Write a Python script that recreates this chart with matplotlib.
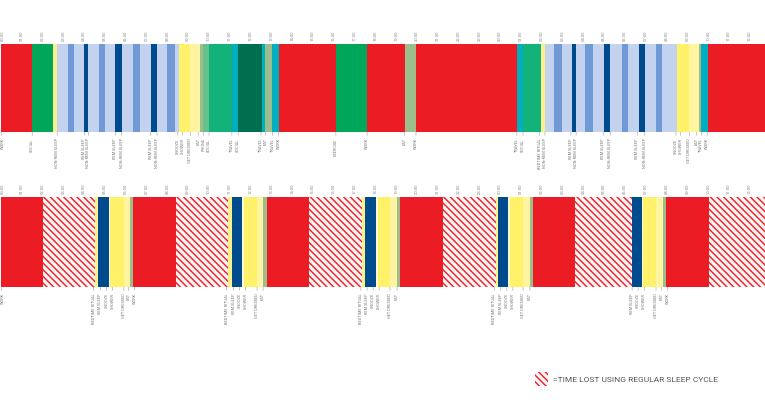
import matplotlib.pyplot as plt
from matplotlib.patches import Rectangle

plt.rcParams['font.family'] = ['Roboto', 'DejaVu Sans']
plt.rcParams['hatch.linewidth'] = 1.0

# colour for each kind of activity
colors = {
    'work': '#ec1c24', 'social': '#00a65a', 'social2': '#12b27a',
    'phone': '#66c08e', 'study': '#006f50', 'travel': '#00aebf',
    'eat': '#9dbd8c', 'bedtime': '#fbf08a', 'light': '#c3d3ef',
    'deep': '#7199d5', 'rem': '#004b8d', 'snooze': '#fff169',
    'shower': '#fff169', 'dressed': '#fff5a0', 'wake': '#fff8d0',
    'lost': 'white',
}

# top band: regular day (hours from 00:00)
top_edges = [0, 1.5, 2.5, 2.7, 3.2, 3.5, 4.0, 4.2, 4.7, 5.0, 5.5, 5.8, 6.35,
             6.7, 7.2, 7.5, 8.0, 8.35, 8.55, 8.7, 9.1, 9.55, 9.7, 10.0, 11.1,
             11.4, 12.55, 12.7, 13.05, 13.35, 16.1, 17.6, 19.4, 19.95, 24.8,
             25.1, 25.95, 26.15, 26.6, 26.95, 27.45, 27.65, 28.1, 28.45, 29.0,
             29.3, 29.85, 30.15, 30.65, 30.95, 31.5, 31.8, 32.5, 32.65, 33.1,
             33.55, 33.65, 34.0, 36.73]
top_kinds = ['work', 'social', 'bedtime', 'light', 'deep', 'light', 'rem',
             'light', 'deep', 'light', 'rem', 'light', 'deep', 'light', 'rem',
             'light', 'deep', 'light', 'snooze', 'shower', 'dressed', 'eat',
             'phone', 'social2', 'travel', 'study', 'travel', 'eat', 'travel',
             'work', 'social', 'work', 'eat', 'work', 'travel', 'social2',
             'bedtime', 'light', 'deep', 'light', 'rem', 'light', 'deep',
             'light', 'rem', 'light', 'deep', 'light', 'rem', 'light', 'deep',
             'light', 'snooze', 'shower', 'dressed', 'eat', 'travel', 'work']
top_label_pos = [0, 1.5, 2.7, 4.0, 4.2, 5.5, 5.8, 7.2, 7.5, 8.5, 8.72, 9.1,
                 9.48, 9.72, 10.0, 11.1, 11.4, 12.5, 12.72, 13.05, 13.35, 16.1,
                 17.6, 19.4, 19.95, 24.8, 25.1, 25.9, 26.15, 27.4, 27.65, 28.95,
                 29.3, 30.6, 30.95, 32.45, 32.67, 33.1, 33.45, 33.67, 33.95]
top_label_text = ['WORK', 'SOCIAL', 'NON-REM SLEEP', 'REM SLEEP',
                  'NON-REM SLEEP', 'REM SLEEP', 'NON-REM SLEEP', 'REM SLEEP',
                  'NON-REM SLEEP', 'SNOOZE', 'SHOWER', 'GET DRESSED', 'EAT',
                  'PHONE', 'SOCIAL', 'TRAVEL', 'SOCIAL', 'TRAVEL', 'EAT',
                  'TRAVEL', 'WORK', 'EXERCISE', 'WORK', 'EAT', 'WORK', 'TRAVEL',
                  'SOCIAL', 'BEDTIME RITUAL', 'NON-REM SLEEP', 'REM SLEEP',
                  'NON-REM SLEEP', 'REM SLEEP', 'NON-REM SLEEP', 'REM SLEEP',
                  'NON-REM SLEEP', 'SNOOZE', 'SHOWER', 'GET DRESSED', 'EAT',
                  'TRAVEL', 'WORK']

# bottom band: polyphasic schedule
bot_edges = [0, 2.0, 4.52, 4.66, 5.19, 5.24, 5.91, 6.2, 6.35, 8.41, 10.91,
             11.1, 11.59, 11.68, 12.31, 12.6, 12.79, 14.8, 17.36, 17.5, 18.03,
             18.13, 18.7, 19.04, 19.18, 21.25, 23.8, 23.9, 24.38, 24.47, 25.1,
             25.43, 25.58, 27.6, 30.34, 30.82, 30.87, 31.49, 31.83, 31.97,
             34.04, 36.73]
bot_kinds = ['work', 'lost', 'bedtime', 'rem', 'wake', 'shower', 'dressed',
             'eat', 'work', 'lost', 'bedtime', 'rem', 'wake', 'shower',
             'dressed', 'eat', 'work', 'lost', 'bedtime', 'rem', 'wake',
             'shower', 'dressed', 'eat', 'work', 'lost', 'bedtime', 'rem',
             'wake', 'shower', 'dressed', 'eat', 'work', 'lost', 'rem', 'wake',
             'shower', 'dressed', 'eat', 'work', 'lost']
bot_label_pos = [0, 4.45, 4.78, 5.08, 5.36, 5.91, 6.12, 6.42,
                 10.85, 11.18, 11.47, 11.76, 12.31, 12.6,
                 17.3, 17.6, 17.89, 18.18, 18.7, 19.04,
                 23.72, 24.03, 24.32, 24.61, 25.1, 25.43,
                 30.34, 30.63, 30.92, 31.49, 31.76, 32.04]
bot_label_text = ['WORK', 'BEDTIME RITUAL', 'REM SLEEP', 'SNOOZE', 'SHOWER',
                  'GET DRESSED', 'EAT', 'WORK',
                  'BEDTIME RITUAL', 'REM SLEEP', 'SNOOZE', 'SHOWER',
                  'GET DRESSED', 'EAT',
                  'BEDTIME RITUAL', 'REM SLEEP', 'SNOOZE', 'SHOWER',
                  'GET DRESSED', 'EAT',
                  'BEDTIME RITUAL', 'REM SLEEP', 'SNOOZE', 'SHOWER',
                  'GET DRESSED', 'EAT',
                  'REM SLEEP', 'SNOOZE', 'SHOWER', 'GET DRESSED', 'EAT', 'WORK']

hours = list(range(0, 37))
hour_labels = ['%02d:00' % (h % 24) for h in hours]
legend_text = '=TIME LOST USING REGULAR SLEEP CYCLE'

HATCH = '\\' * 5

fig = plt.figure(figsize=(7.65, 4.17), dpi=100)
ax1 = fig.add_axes([1 / 765, 1 - 132 / 417, 764 / 765, 88 / 417])
ax2 = fig.add_axes([1 / 765, 1 - 287 / 417, 764 / 765, 90 / 417])


def draw_band(ax, edges, kinds, label_pos, label_text):
    for i, kind in enumerate(kinds):
        left, width = edges[i], edges[i + 1] - edges[i]
        if kind == 'lost':
            ax.barh(0, width, left=left, height=1, color='#fff4f4',
                    edgecolor='#ec1c24', hatch=HATCH, linewidth=0)
        else:
            ax.barh(0, width, left=left, height=1, color=colors[kind],
                    linewidth=0)
    for pos, txt in zip(label_pos, label_text):
        # keep the label at the very left edge inside the picture
        ha = 'left' if pos == 0 else 'center'
        ax.annotate(txt, xy=(pos, -0.5), xytext=(0, -4.5),
                    textcoords='offset points', rotation=90, ha=ha,
                    va='top', fontsize=2.8, color='#777',
                    annotation_clip=False,
                    arrowprops=dict(arrowstyle='-', color='#999', lw=0.4,
                                    shrinkA=0, shrinkB=0))
    ax.set_xlim(0, edges[-1])
    ax.set_ylim(-0.5, 0.5)
    ax.set_xticks(hours)
    ax.set_xticklabels(hour_labels)
    ax.set_yticks([])
    ax.tick_params(top=True, labeltop=True, bottom=False, labelbottom=False,
                   length=0, pad=2.5, labelsize=3, labelcolor='#8a8a8a',
                   labelrotation=90)
    ax.get_xticklabels()[0].set_horizontalalignment('left')
    for s in ax.spines.values():
        s.set_visible(False)


draw_band(ax1, top_edges, top_kinds, top_label_pos, top_label_text)
draw_band(ax2, bot_edges, bot_kinds, bot_label_pos, bot_label_text)

# legend for the hatched area
fig.patches.append(Rectangle((535 / 765, 1 - 386 / 417), 13 / 765, 14 / 417,
                             transform=fig.transFigure, facecolor='#fff4f4',
                             edgecolor='#ec1c24', hatch=HATCH, linewidth=0))
fig.text(553 / 765, 1 - 380 / 417, legend_text, fontsize=6, color='#555',
         va='center', ha='left')

fig.savefig('out.png', dpi=100)
